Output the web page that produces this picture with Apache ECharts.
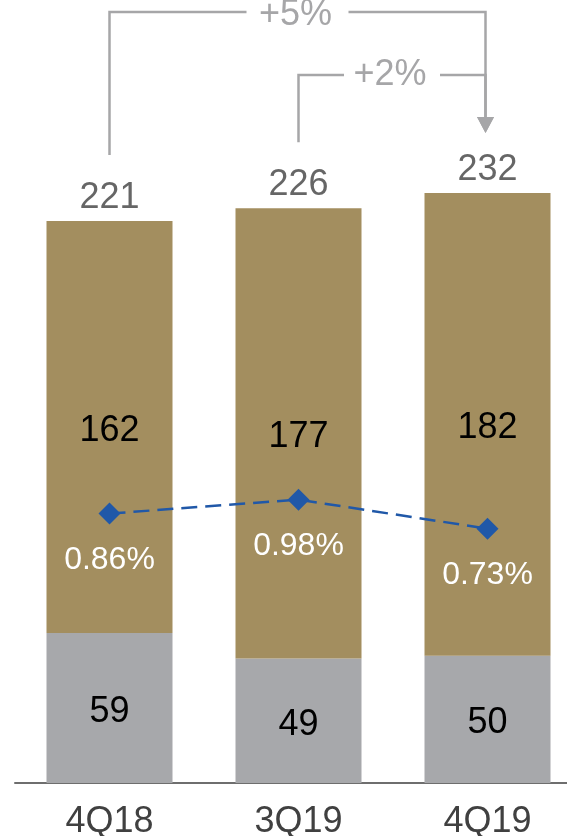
<!DOCTYPE html>
<html>
<head>
<meta charset="utf-8">
<script src="https://cdn.jsdelivr.net/npm/echarts@6/dist/echarts.min.js"></script>
<style>
html,body{margin:0;padding:0;background:#fff;}
#chart{width:567px;height:836px;}
</style>
</head>
<body>
<div id="chart"></div>
<script>
// ---- data ----
const categories = ['4Q18', '3Q19', '4Q19'];
const greyValues = [59, 49, 50];
const goldValues = [162, 177, 182];
const ratioValues = [0.86, 0.98, 0.73];
const bracketFrom = [0, 1];
const bracketTo = [2, 2];
const bracketLabels = ['+5%', '+2%'];

const totals = greyValues.map((v, i) => v + goldValues[i]);

// ---- style ----
const FONT = '"Liberation Sans", Arial, sans-serif';
const BRACKET_COLOR = '#A6A6A8';
const BRACKET_LEVELS = [12, 75];
const BRACKET_TEXT_DY = [3, 0];
const BRACKET_HALF_GAP = [51, 48];

const chart = echarts.init(document.getElementById('chart'), null, {renderer: 'canvas'});

const option = {
  animation: false,
  grid: {left: 15, width: 567, top: 20, height: 763, containLabel: false, outerBoundsMode: 'none'},
  xAxis: {
    type: 'category',
    data: categories,
    axisLine: {lineStyle: {color: '#6E6E6E', width: 2}},
    axisTick: {show: false},
    axisLabel: {fontSize: 36, color: '#404040', fontFamily: FONT, margin: 21}
  },
  yAxis: [
    {type: 'value', min: 0, max: 300, show: false, splitLine: {show: false}},
    {type: 'value', min: -1.46, max: 5.11, show: false, splitLine: {show: false}}
  ],
  series: [
    {
      type: 'bar', stack: 'total', data: greyValues, barWidth: 126,
      itemStyle: {color: '#A7A8AB'},
      label: {show: true, position: 'inside', offset: [0, 4], fontSize: 36, color: '#000', fontFamily: FONT}
    },
    {
      type: 'bar', stack: 'total', data: goldValues, barWidth: 126,
      itemStyle: {color: '#A38E5F'},
      label: {show: true, position: 'inside', offset: [0, 4], fontSize: 36, color: '#000', fontFamily: FONT}
    },
    {
      type: 'scatter', data: totals, symbolSize: 0, silent: true,
      label: {show: true, position: 'top', distance: 5, fontSize: 36, color: '#404040', fontFamily: FONT}
    },
    {
      type: 'line', yAxisIndex: 1, data: ratioValues,
      symbol: 'diamond', symbolSize: 22,
      itemStyle: {color: '#2058A8'},
      lineStyle: {color: '#2058A8', width: 2.5, type: [16, 8]},
      label: {
        show: true, position: 'bottom', distance: 20, fontSize: 32, color: '#fff', fontFamily: FONT,
        formatter: p => p.value.toFixed(2) + '%'
      }
    },
    {
      type: 'custom',
      clip: false,
      silent: true,
      encode: {x: [0, 1], y: 2},
      data: bracketFrom.map((f, i) => [f, bracketTo[i], 0]),
      renderItem: function (params, api) {
        const i = params.dataIndex;
        const from = api.value(0), to = api.value(1);
        const x1 = api.coord([from, 0])[0];
        const x2 = api.coord([to, 0])[0] - 2;
        const top1 = api.coord([from, totals[from]])[1];
        const top2 = api.coord([to, totals[to]])[1];
        const y = BRACKET_LEVELS[i];
        const yb = top1 - 66;
        const tip = top2 - 60;
        const xm = (x1 + x2) / 2;
        const h = BRACKET_HALF_GAP[i];
        const ls = {stroke: BRACKET_COLOR, lineWidth: 2.5, fill: null};
        return {
          type: 'group',
          children: [
            {type: 'polyline', shape: {points: [[x1, yb], [x1, y], [xm - h, y]]}, style: ls},
            {type: 'polyline', shape: {points: [[xm + h, y], [x2, y], [x2, tip - 15]]}, style: ls},
            {type: 'polygon', shape: {points: [[x2 - 8.5, tip - 16], [x2 + 8.5, tip - 16], [x2, tip]]}, style: {fill: BRACKET_COLOR}},
            {type: 'text', style: {text: bracketLabels[i], x: xm - 2, y: y + BRACKET_TEXT_DY[i], fill: BRACKET_COLOR,
              font: '36px ' + FONT, align: 'center', verticalAlign: 'middle'}}
          ]
        };
      }
    }
  ]
};
chart.setOption(option);
</script>
</body>
</html>
